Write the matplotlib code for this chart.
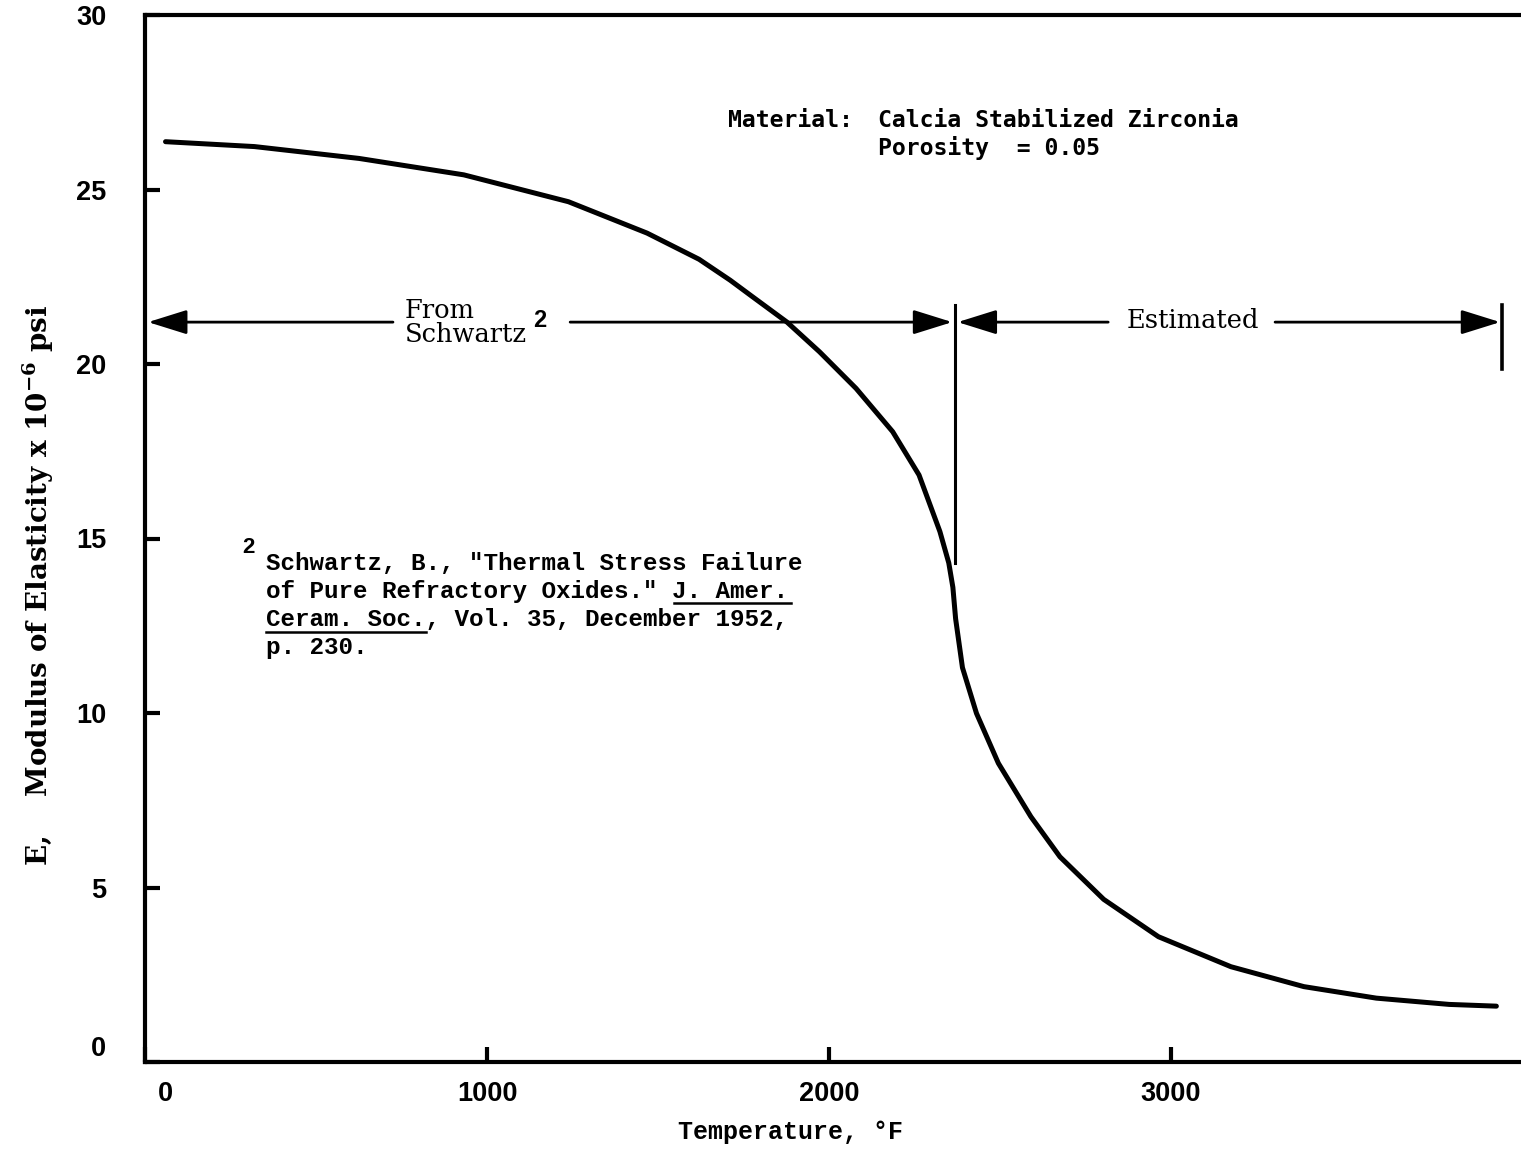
import matplotlib
matplotlib.use("Agg")
import matplotlib.pyplot as plt
from matplotlib import transforms
from matplotlib.lines import Line2D
from matplotlib.patches import FancyArrowPatch

plt.rcParams["mathtext.fontset"] = "custom"
plt.rcParams["mathtext.rm"] = "DejaVu Serif:bold"
plt.rcParams["mathtext.it"] = "DejaVu Serif:bold"
plt.rcParams["mathtext.bf"] = "DejaVu Serif:bold"

# ---------------------------------------------------------------------------
# Data (E in 10^6 psi vs temperature in F)
# ---------------------------------------------------------------------------
temp_f = [60, 320, 626, 932, 1238, 1468, 1620, 1711, 1773, 1877, 1972, 2079,
          2186, 2263, 2324, 2350, 2362, 2370, 2390, 2431, 2495, 2590, 2675,
          2803, 2963, 3175, 3388, 3600, 3813, 3951]
modulus = [26.37, 26.23, 25.89, 25.42, 24.65, 23.75, 23.00, 22.40, 21.95,
           21.20, 20.35, 19.30, 18.06, 16.82, 15.20, 14.30, 13.60, 12.70,
           11.30, 9.99, 8.56, 7.03, 5.88, 4.66, 3.59, 2.73, 2.16, 1.83, 1.65,
           1.60]

x_ticks = [0, 1000, 2000, 3000]
y_ticks = [0, 5, 10, 15, 20, 25, 30]

footnote_lines = [
    'Schwartz, B., "Thermal Stress Failure',
    'of Pure Refractory Oxides." J. Amer.',
    'Ceram. Soc., Vol. 35, December 1952,',
    'p. 230.',
]
# (line index, first char, number of chars) to underline
underlines = [(1, 28, 8), (2, 0, 11)]

W, H, DPI = 1521, 1150, 100
fig = plt.figure(figsize=(W / DPI, H / DPI), dpi=DPI)
ax = fig.add_axes([145 / W, 1 - 1062 / H, 1 - 145 / W, (1062 - 15) / H])

ax.plot(temp_f, modulus, color="black", lw=3.6, solid_capstyle="round",
        solid_joinstyle="round")

ax.set_xlim(0, 4023)
ax.set_ylim(0, 30)
ax.set_xticks(x_ticks)
ax.set_yticks(y_ticks)
ax.spines["right"].set_visible(False)
for s in ("left", "bottom", "top"):
    ax.spines[s].set_linewidth(3)
ax.tick_params(direction="in", length=11, width=3, top=False, right=False)
ax.tick_params(axis="y", pad=28)
ax.tick_params(axis="x", pad=14)
for lab in ax.get_xticklabels() + ax.get_yticklabels():
    lab.set_fontfamily("Liberation Sans")
    lab.set_fontweight("bold")
    lab.set_fontsize(19.5)
# the scan has the two zero labels nudged off their ticks
x0 = ax.get_xticklabels()[0]
x0.set_transform(x0.get_transform()
                 + transforms.ScaledTranslation(0.2, 0, fig.dpi_scale_trans))
y0 = ax.get_yticklabels()[0]
y0.set_transform(y0.get_transform()
                 + transforms.ScaledTranslation(0, 0.16, fig.dpi_scale_trans))

# axis titles
fig.text(38 / W, 1 - 585 / H, r"E,    Modulus of Elasticity x 10$^{-6}$ psi",
         rotation=90, ha="center", va="center", family="DejaVu Serif",
         fontweight="bold", fontsize=20)
fig.text(790 / W, 1 - 1132 / H, "Temperature, \u00b0F", ha="center", va="center",
         family="Liberation Mono", fontweight="bold", fontsize=18)

# material box
ax.text(1705, 26.8, "Material:", family="DejaVu Sans Mono", fontsize=16.7,
        fontweight="bold", va="baseline")
ax.text(2143, 26.8, "Calcia Stabilized Zirconia", family="DejaVu Sans Mono",
        fontsize=16.7, fontweight="bold", va="baseline")
ax.text(2143, 26.0, "Porosity  = 0.05", family="DejaVu Sans Mono",
        fontsize=16.7, fontweight="bold", va="baseline")

# range arrows
ARROW_Y = 21.2


def arrow(x_from, x_to):
    a = FancyArrowPatch((x_from, ARROW_Y), (x_to, ARROW_Y),
                        arrowstyle="-|>,head_length=2.4,head_width=0.75",
                        mutation_scale=10, color="black", lw=2, shrinkA=0,
                        shrinkB=0)
    ax.add_patch(a)


arrow(725, 9)
arrow(1243, 2360)
arrow(2816, 2376)
arrow(3304, 3962)
ax.plot([2368, 2368], [21.7, 14.3], color="black", lw=2.2)
ax.plot([3968, 3968], [21.7, 19.85], color="black", lw=2.6)

ax.text(760, ARROW_Y, "From\nSchwartz", family="DejaVu Serif", fontsize=18.5,
        va="center", ha="left", linespacing=0.95)
ax.text(1135, ARROW_Y + 0.05, "2", family="Liberation Sans", fontweight="bold",
        fontsize=17, va="center")
ax.text(2871, ARROW_Y + 0.05, "Estimated", family="DejaVu Serif", fontsize=18.5,
        va="center")

# footnote, typewriter style
FS = 17.5
char_pt = FS * 0.6
ax.text(284, 14.75, "2", family="Liberation Sans", fontweight="bold",
        fontsize=16, va="center")
base_y = [14.10, 13.30, 12.49, 11.69]
for i, line in enumerate(footnote_lines):
    ax.text(354, base_y[i], line, family="Liberation Mono", fontweight="bold",
            fontsize=FS, va="baseline")
for i, start, n in underlines:
    tr = (transforms.Affine2D().scale(DPI / 72)
          + transforms.ScaledTranslation(354, base_y[i], ax.transData))
    ax.add_line(Line2D([start * char_pt, (start + n) * char_pt], [-4, -4],
                       transform=tr, color="black", lw=1.8))

fig.savefig("out.png", dpi=DPI)
